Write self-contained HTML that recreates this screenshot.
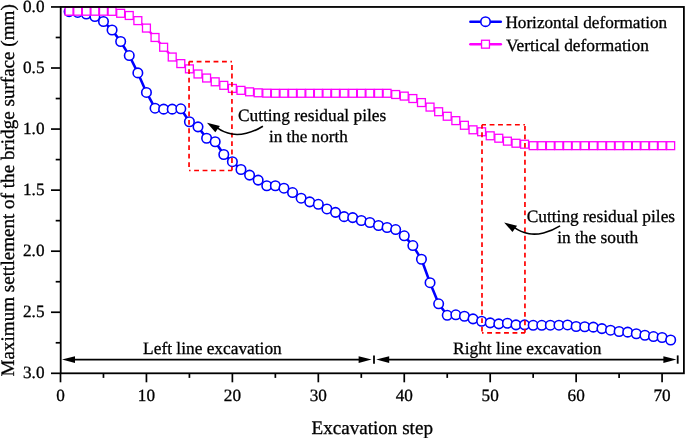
<!DOCTYPE html>
<html><head><meta charset="utf-8"><title>chart</title>
<style>
html,body{margin:0;padding:0;background:#fff;}
body{width:685px;height:438px;overflow:hidden;}
svg{display:block;will-change:transform;}
text{font-family:"Liberation Serif",serif;fill:#000;text-rendering:geometricPrecision;stroke:#000;stroke-width:0.3px;}
</style></head><body>
<svg width="685" height="438" viewBox="0 0 685 438">
<rect x="0" y="0" width="685" height="438" fill="#fff"/>
<defs><clipPath id="plot"><rect x="60.7" y="6.95" width="623.1999999999999" height="366.35"/></clipPath></defs>
<g clip-path="url(#plot)">
<polyline points="69.09,11.59 77.69,12.45 86.28,14.03 94.88,16.48 103.47,21.48 112.06,30.03 120.66,41.51 129.25,55.55 137.85,72.89 146.44,92.43 155.03,108.19 163.63,109.16 172.22,109.16 180.82,108.80 189.41,121.74 198.00,126.87 206.60,138.23 215.19,141.77 223.79,154.47 232.38,161.68 240.97,169.49 249.57,175.11 258.16,180.12 266.76,185.73 275.35,185.73 283.94,188.18 292.54,192.57 301.13,198.19 309.73,201.85 318.32,204.30 326.91,208.94 335.51,212.36 344.10,216.63 352.70,217.61 361.29,220.54 369.88,222.49 378.48,225.54 387.07,227.50 395.67,229.57 404.26,235.80 412.85,245.57 421.45,259.25 430.04,282.70 438.64,303.82 447.23,315.30 455.82,314.81 464.42,316.28 473.01,318.84 481.61,321.29 490.20,322.87 498.79,323.85 507.39,323.24 515.98,324.83 524.58,324.83 533.17,325.32 541.76,325.32 550.36,325.19 558.95,325.19 567.55,324.95 576.14,326.54 584.73,326.78 593.33,327.15 601.92,328.61 610.52,330.20 619.11,331.54 627.70,332.16 636.30,333.74 644.89,335.21 653.49,336.55 662.08,337.53 670.67,339.97" fill="none" stroke="#0000ff" stroke-width="2.55" stroke-linejoin="round"/>
<g fill="#fff" stroke="#0000ff" stroke-width="1.6">
<circle cx="69.09" cy="11.59" r="4.75"/>
<circle cx="77.69" cy="12.45" r="4.75"/>
<circle cx="86.28" cy="14.03" r="4.75"/>
<circle cx="94.88" cy="16.48" r="4.75"/>
<circle cx="103.47" cy="21.48" r="4.75"/>
<circle cx="112.06" cy="30.03" r="4.75"/>
<circle cx="120.66" cy="41.51" r="4.75"/>
<circle cx="129.25" cy="55.55" r="4.75"/>
<circle cx="137.85" cy="72.89" r="4.75"/>
<circle cx="146.44" cy="92.43" r="4.75"/>
<circle cx="155.03" cy="108.19" r="4.75"/>
<circle cx="163.63" cy="109.16" r="4.75"/>
<circle cx="172.22" cy="109.16" r="4.75"/>
<circle cx="180.82" cy="108.80" r="4.75"/>
<circle cx="189.41" cy="121.74" r="4.75"/>
<circle cx="198.00" cy="126.87" r="4.75"/>
<circle cx="206.60" cy="138.23" r="4.75"/>
<circle cx="215.19" cy="141.77" r="4.75"/>
<circle cx="223.79" cy="154.47" r="4.75"/>
<circle cx="232.38" cy="161.68" r="4.75"/>
<circle cx="240.97" cy="169.49" r="4.75"/>
<circle cx="249.57" cy="175.11" r="4.75"/>
<circle cx="258.16" cy="180.12" r="4.75"/>
<circle cx="266.76" cy="185.73" r="4.75"/>
<circle cx="275.35" cy="185.73" r="4.75"/>
<circle cx="283.94" cy="188.18" r="4.75"/>
<circle cx="292.54" cy="192.57" r="4.75"/>
<circle cx="301.13" cy="198.19" r="4.75"/>
<circle cx="309.73" cy="201.85" r="4.75"/>
<circle cx="318.32" cy="204.30" r="4.75"/>
<circle cx="326.91" cy="208.94" r="4.75"/>
<circle cx="335.51" cy="212.36" r="4.75"/>
<circle cx="344.10" cy="216.63" r="4.75"/>
<circle cx="352.70" cy="217.61" r="4.75"/>
<circle cx="361.29" cy="220.54" r="4.75"/>
<circle cx="369.88" cy="222.49" r="4.75"/>
<circle cx="378.48" cy="225.54" r="4.75"/>
<circle cx="387.07" cy="227.50" r="4.75"/>
<circle cx="395.67" cy="229.57" r="4.75"/>
<circle cx="404.26" cy="235.80" r="4.75"/>
<circle cx="412.85" cy="245.57" r="4.75"/>
<circle cx="421.45" cy="259.25" r="4.75"/>
<circle cx="430.04" cy="282.70" r="4.75"/>
<circle cx="438.64" cy="303.82" r="4.75"/>
<circle cx="447.23" cy="315.30" r="4.75"/>
<circle cx="455.82" cy="314.81" r="4.75"/>
<circle cx="464.42" cy="316.28" r="4.75"/>
<circle cx="473.01" cy="318.84" r="4.75"/>
<circle cx="481.61" cy="321.29" r="4.75"/>
<circle cx="490.20" cy="322.87" r="4.75"/>
<circle cx="498.79" cy="323.85" r="4.75"/>
<circle cx="507.39" cy="323.24" r="4.75"/>
<circle cx="515.98" cy="324.83" r="4.75"/>
<circle cx="524.58" cy="324.83" r="4.75"/>
<circle cx="533.17" cy="325.32" r="4.75"/>
<circle cx="541.76" cy="325.32" r="4.75"/>
<circle cx="550.36" cy="325.19" r="4.75"/>
<circle cx="558.95" cy="325.19" r="4.75"/>
<circle cx="567.55" cy="324.95" r="4.75"/>
<circle cx="576.14" cy="326.54" r="4.75"/>
<circle cx="584.73" cy="326.78" r="4.75"/>
<circle cx="593.33" cy="327.15" r="4.75"/>
<circle cx="601.92" cy="328.61" r="4.75"/>
<circle cx="610.52" cy="330.20" r="4.75"/>
<circle cx="619.11" cy="331.54" r="4.75"/>
<circle cx="627.70" cy="332.16" r="4.75"/>
<circle cx="636.30" cy="333.74" r="4.75"/>
<circle cx="644.89" cy="335.21" r="4.75"/>
<circle cx="653.49" cy="336.55" r="4.75"/>
<circle cx="662.08" cy="337.53" r="4.75"/>
<circle cx="670.67" cy="339.97" r="4.75"/>
</g>
<polyline points="69.09,11.22 77.69,11.22 86.28,11.22 94.88,11.22 103.47,11.22 112.06,11.35 120.66,13.30 129.25,15.50 137.85,20.63 146.44,28.08 155.03,37.48 163.63,47.25 172.22,57.02 180.82,63.61 189.41,68.86 198.00,73.99 206.60,78.02 215.19,81.81 223.79,85.35 232.38,88.40 240.97,90.36 249.57,91.82 258.16,92.80 266.76,93.17 275.35,93.29 283.94,93.29 292.54,93.29 301.13,93.29 309.73,93.29 318.32,93.29 326.91,93.29 335.51,93.29 344.10,93.29 352.70,93.29 361.29,93.29 369.88,93.29 378.48,93.29 387.07,93.29 395.67,94.51 404.26,96.10 412.85,98.54 421.45,102.57 430.04,107.09 438.64,111.73 447.23,116.25 455.82,120.64 464.42,125.28 473.01,129.80 481.61,131.76 490.20,135.79 498.79,138.23 507.39,141.16 515.98,143.24 524.58,144.21 533.17,145.68 541.76,145.68 550.36,145.68 558.95,145.68 567.55,145.68 576.14,145.68 584.73,145.68 593.33,145.68 601.92,145.68 610.52,145.68 619.11,145.68 627.70,145.68 636.30,145.68 644.89,145.68 653.49,145.68 662.08,145.68 670.67,145.68" fill="none" stroke="#ff00ff" stroke-width="2.4" stroke-linejoin="round"/>
<g fill="#fff" stroke="#ff00ff" stroke-width="1.3">
<rect x="65.14" y="7.27" width="7.9" height="7.9"/>
<rect x="73.74" y="7.27" width="7.9" height="7.9"/>
<rect x="82.33" y="7.27" width="7.9" height="7.9"/>
<rect x="90.93" y="7.27" width="7.9" height="7.9"/>
<rect x="99.52" y="7.27" width="7.9" height="7.9"/>
<rect x="108.11" y="7.40" width="7.9" height="7.9"/>
<rect x="116.71" y="9.35" width="7.9" height="7.9"/>
<rect x="125.30" y="11.55" width="7.9" height="7.9"/>
<rect x="133.90" y="16.68" width="7.9" height="7.9"/>
<rect x="142.49" y="24.13" width="7.9" height="7.9"/>
<rect x="151.08" y="33.53" width="7.9" height="7.9"/>
<rect x="159.68" y="43.30" width="7.9" height="7.9"/>
<rect x="168.27" y="53.07" width="7.9" height="7.9"/>
<rect x="176.87" y="59.66" width="7.9" height="7.9"/>
<rect x="185.46" y="64.91" width="7.9" height="7.9"/>
<rect x="194.05" y="70.04" width="7.9" height="7.9"/>
<rect x="202.65" y="74.07" width="7.9" height="7.9"/>
<rect x="211.24" y="77.86" width="7.9" height="7.9"/>
<rect x="219.84" y="81.40" width="7.9" height="7.9"/>
<rect x="228.43" y="84.45" width="7.9" height="7.9"/>
<rect x="237.02" y="86.41" width="7.9" height="7.9"/>
<rect x="245.62" y="87.87" width="7.9" height="7.9"/>
<rect x="254.21" y="88.85" width="7.9" height="7.9"/>
<rect x="262.81" y="89.22" width="7.9" height="7.9"/>
<rect x="271.40" y="89.34" width="7.9" height="7.9"/>
<rect x="279.99" y="89.34" width="7.9" height="7.9"/>
<rect x="288.59" y="89.34" width="7.9" height="7.9"/>
<rect x="297.18" y="89.34" width="7.9" height="7.9"/>
<rect x="305.78" y="89.34" width="7.9" height="7.9"/>
<rect x="314.37" y="89.34" width="7.9" height="7.9"/>
<rect x="322.96" y="89.34" width="7.9" height="7.9"/>
<rect x="331.56" y="89.34" width="7.9" height="7.9"/>
<rect x="340.15" y="89.34" width="7.9" height="7.9"/>
<rect x="348.75" y="89.34" width="7.9" height="7.9"/>
<rect x="357.34" y="89.34" width="7.9" height="7.9"/>
<rect x="365.93" y="89.34" width="7.9" height="7.9"/>
<rect x="374.53" y="89.34" width="7.9" height="7.9"/>
<rect x="383.12" y="89.34" width="7.9" height="7.9"/>
<rect x="391.72" y="90.56" width="7.9" height="7.9"/>
<rect x="400.31" y="92.15" width="7.9" height="7.9"/>
<rect x="408.90" y="94.59" width="7.9" height="7.9"/>
<rect x="417.50" y="98.62" width="7.9" height="7.9"/>
<rect x="426.09" y="103.14" width="7.9" height="7.9"/>
<rect x="434.69" y="107.78" width="7.9" height="7.9"/>
<rect x="443.28" y="112.30" width="7.9" height="7.9"/>
<rect x="451.87" y="116.69" width="7.9" height="7.9"/>
<rect x="460.47" y="121.33" width="7.9" height="7.9"/>
<rect x="469.06" y="125.85" width="7.9" height="7.9"/>
<rect x="477.66" y="127.81" width="7.9" height="7.9"/>
<rect x="486.25" y="131.84" width="7.9" height="7.9"/>
<rect x="494.84" y="134.28" width="7.9" height="7.9"/>
<rect x="503.44" y="137.21" width="7.9" height="7.9"/>
<rect x="512.03" y="139.29" width="7.9" height="7.9"/>
<rect x="520.63" y="140.26" width="7.9" height="7.9"/>
<rect x="529.22" y="141.73" width="7.9" height="7.9"/>
<rect x="537.81" y="141.73" width="7.9" height="7.9"/>
<rect x="546.41" y="141.73" width="7.9" height="7.9"/>
<rect x="555.00" y="141.73" width="7.9" height="7.9"/>
<rect x="563.60" y="141.73" width="7.9" height="7.9"/>
<rect x="572.19" y="141.73" width="7.9" height="7.9"/>
<rect x="580.78" y="141.73" width="7.9" height="7.9"/>
<rect x="589.38" y="141.73" width="7.9" height="7.9"/>
<rect x="597.97" y="141.73" width="7.9" height="7.9"/>
<rect x="606.57" y="141.73" width="7.9" height="7.9"/>
<rect x="615.16" y="141.73" width="7.9" height="7.9"/>
<rect x="623.75" y="141.73" width="7.9" height="7.9"/>
<rect x="632.35" y="141.73" width="7.9" height="7.9"/>
<rect x="640.94" y="141.73" width="7.9" height="7.9"/>
<rect x="649.54" y="141.73" width="7.9" height="7.9"/>
<rect x="658.13" y="141.73" width="7.9" height="7.9"/>
<rect x="666.72" y="141.73" width="7.9" height="7.9"/>
</g>
</g>
<g fill="none" stroke="#ff0000" stroke-width="1.7" stroke-dasharray="4.85 3.6" stroke-dashoffset="0.85">
<path d="M189.05,61.6 H231.95"/>
<path d="M189.05,61.6 V170.5"/>
<path d="M231.95,170.5 H189.05"/>
<path d="M231.95,170.5 V61.6"/>
<path d="M482.0,124.75 H524.95"/>
<path d="M482.0,124.75 V332.8"/>
<path d="M524.95,332.8 H482.0"/>
<path d="M524.95,332.8 V124.75"/>
</g>
<rect x="60.7" y="6.95" width="623.1999999999999" height="366.35" fill="none" stroke="#000" stroke-width="1.8"/>
<g stroke="#000" stroke-width="1.7">
<line x1="60.50" y1="373.3" x2="60.50" y2="382.3"/>
<line x1="103.47" y1="373.3" x2="103.47" y2="377.90000000000003"/>
<line x1="146.44" y1="373.3" x2="146.44" y2="382.3"/>
<line x1="189.41" y1="373.3" x2="189.41" y2="377.90000000000003"/>
<line x1="232.38" y1="373.3" x2="232.38" y2="382.3"/>
<line x1="275.35" y1="373.3" x2="275.35" y2="377.90000000000003"/>
<line x1="318.32" y1="373.3" x2="318.32" y2="382.3"/>
<line x1="361.29" y1="373.3" x2="361.29" y2="377.90000000000003"/>
<line x1="404.26" y1="373.3" x2="404.26" y2="382.3"/>
<line x1="447.23" y1="373.3" x2="447.23" y2="377.90000000000003"/>
<line x1="490.20" y1="373.3" x2="490.20" y2="382.3"/>
<line x1="533.17" y1="373.3" x2="533.17" y2="377.90000000000003"/>
<line x1="576.14" y1="373.3" x2="576.14" y2="382.3"/>
<line x1="619.11" y1="373.3" x2="619.11" y2="377.90000000000003"/>
<line x1="662.08" y1="373.3" x2="662.08" y2="382.3"/>
<line x1="60.7" y1="6.95" x2="51.0" y2="6.95"/>
<line x1="60.7" y1="37.48" x2="55.7" y2="37.48"/>
<line x1="60.7" y1="68.01" x2="51.0" y2="68.01"/>
<line x1="60.7" y1="98.54" x2="55.7" y2="98.54"/>
<line x1="60.7" y1="129.07" x2="51.0" y2="129.07"/>
<line x1="60.7" y1="159.60" x2="55.7" y2="159.60"/>
<line x1="60.7" y1="190.13" x2="51.0" y2="190.13"/>
<line x1="60.7" y1="220.66" x2="55.7" y2="220.66"/>
<line x1="60.7" y1="251.19" x2="51.0" y2="251.19"/>
<line x1="60.7" y1="281.72" x2="55.7" y2="281.72"/>
<line x1="60.7" y1="312.25" x2="51.0" y2="312.25"/>
<line x1="60.7" y1="342.78" x2="55.7" y2="342.78"/>
<line x1="60.7" y1="373.31" x2="51.0" y2="373.31"/>
</g>
<g font-size="17.2px">
<text x="60.50" y="401.4" text-anchor="middle">0</text>
<text x="146.44" y="401.4" text-anchor="middle">10</text>
<text x="232.38" y="401.4" text-anchor="middle">20</text>
<text x="318.32" y="401.4" text-anchor="middle">30</text>
<text x="404.26" y="401.4" text-anchor="middle">40</text>
<text x="490.20" y="401.4" text-anchor="middle">50</text>
<text x="576.14" y="401.4" text-anchor="middle">60</text>
<text x="662.08" y="401.4" text-anchor="middle">70</text>
<text x="44.5" y="11.95" text-anchor="end">0.0</text>
<text x="44.5" y="73.01" text-anchor="end">0.5</text>
<text x="44.5" y="134.07" text-anchor="end">1.0</text>
<text x="44.5" y="195.13" text-anchor="end">1.5</text>
<text x="44.5" y="256.19" text-anchor="end">2.0</text>
<text x="44.5" y="317.25" text-anchor="end">2.5</text>
<text x="44.5" y="378.31" text-anchor="end">3.0</text>
</g>
<text x="372.25" y="434.3" font-size="19.1px" text-anchor="middle">Excavation step</text>
<text transform="translate(13.75,190.35) rotate(-90)" font-size="19.1px" text-anchor="middle">Maximum settlement of the bridge surface (mm)</text>
<g stroke-linecap="round">
<line x1="470.4" y1="21.7" x2="500.8" y2="21.7" stroke="#0000ff" stroke-width="2.55"/>
<circle cx="485.5" cy="21.7" r="4.7" fill="#fff" stroke="#0000ff" stroke-width="1.6"/>
<line x1="470.4" y1="44.2" x2="500.8" y2="44.2" stroke="#ff00ff" stroke-width="2.55"/>
<rect x="481.55" y="40.25" width="7.9" height="7.9" fill="#fff" stroke="#ff00ff" stroke-width="1.3"/>
</g>
<g font-size="17.35px">
<text x="505.4" y="28.3" font-size="17.2px">Horizontal deformation</text>
<text x="505.9" y="50.65">Vertical deformation</text>
<text x="312.1" y="121.3" text-anchor="middle">Cutting residual piles</text>
<text x="308.3" y="141.7" text-anchor="middle" font-size="17.1px">in the north</text>
<text x="600.9" y="222.15" text-anchor="middle">Cutting residual piles</text>
<text x="597.7" y="242.6" text-anchor="middle">in the south</text>
<text x="212.45" y="354.2" text-anchor="middle">Left line excavation</text>
<text x="527.3" y="354.2" text-anchor="middle">Right line excavation</text>
</g>
<g transform="translate(0,0)">
<path d="M262.9,126.2 C252,133 240,135.6 232,134 C226,132.9 221,130.6 217,127.6" fill="none" stroke="#000" stroke-width="1.6"/>
<path d="M207.0,122.8 L219.9,126.1 L215.3,132.2 Z" fill="#000"/>
</g>
<g transform="translate(297.15,99.7)">
<path d="M262.9,126.2 C252,133 240,135.6 232,134 C226,132.9 221,130.6 217,127.6" fill="none" stroke="#000" stroke-width="1.6"/>
<path d="M207.0,122.8 L219.9,126.1 L215.3,132.2 Z" fill="#000"/>
</g>
<g stroke="#000" stroke-width="1.8" fill="#000">
<line x1="70" y1="359.6" x2="362" y2="359.6"/>
<line x1="386" y1="359.6" x2="667" y2="359.6"/>
<line x1="374.0" y1="355.6" x2="374.0" y2="363.7"/>
<line x1="677.7" y1="355.4" x2="677.7" y2="363.7"/>
</g>
<g fill="#000">
<path d="M62.0,359.6 L75.0,356.3 L75.0,362.90000000000003 Z"/>
<path d="M371.6,359.6 L358.6,356.3 L358.6,362.90000000000003 Z"/>
<path d="M376.2,359.6 L389.2,356.3 L389.2,362.90000000000003 Z"/>
<path d="M676.4,359.6 L663.4,356.3 L663.4,362.90000000000003 Z"/>
</g>
</svg></body></html>
